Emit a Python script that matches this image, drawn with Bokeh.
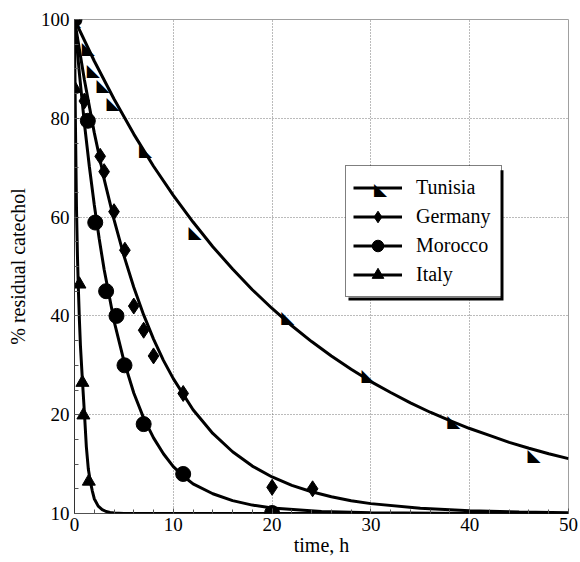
import numpy as np
from bokeh.plotting import figure
from bokeh.models import Legend, LegendItem, BoxAnnotation, FixedTicker
from bokeh.core.properties import value
from bokeh.embed import file_html
from bokeh.resources import INLINE

# ---- data ----
series_names = ["Tunisia", "Germany", "Morocco", "Italy"]

tun_mx = [0, 1.4, 1.9, 2.9, 3.9, 7.2, 12.2, 21.6, 29.7, 38.4, 46.5]
tun_my = [100, 94.2, 89.8, 86.7, 83.1, 73.6, 56.9, 39.7, 28.0, 18.8, 11.8]
tun_cx = [0, 2, 4, 6, 8, 10, 12, 14, 16, 18, 20, 22, 24, 26, 28, 30, 32, 34, 36, 38, 40, 42, 44, 46, 48, 50]
tun_cy = [100, 91.6, 83.9, 76.8, 70.3, 64.4, 59.0, 54.0, 49.5, 45.3, 41.5, 38.0, 34.8, 31.9, 29.2, 26.7,
          24.5, 22.4, 20.5, 18.8, 17.2, 15.8, 14.4, 13.2, 12.1, 11.1]

ger_mx = [0, 1.0, 2.6, 3.0, 4.0, 5.1, 6.0, 7.0, 8.0, 11.0, 20.0, 24.1]
ger_my = [100, 83.5, 72.3, 69.2, 61.1, 53.3, 42.0, 37.1, 31.9, 24.3, 5.3, 5.0]
ger_cx = [0, 1, 2, 3, 4, 5, 6, 7, 8, 9, 10, 12, 14, 16, 18, 20, 22, 24, 26, 28, 30, 35, 40, 45, 50]
ger_cy = [100, 87.8, 77.1, 67.7, 59.5, 52.2, 45.8, 40.2, 35.3, 31.0, 27.3, 21.0, 16.2, 12.5, 9.6, 7.4,
          5.7, 4.4, 3.4, 2.6, 2.0, 1.05, 0.55, 0.29, 0.15]

mor_mx = [0, 1.35, 2.1, 3.2, 4.25, 5.06, 7.0, 11.0, 20.0]
mor_my = [100, 79.5, 58.9, 45.0, 40.0, 30.0, 18.1, 8.0, 0.1]
mor_cx = [0, 0.5, 1, 1.5, 2, 2.5, 3, 4, 5, 6, 7, 8, 9, 10, 11, 12, 14, 16, 18, 20, 25, 30, 40, 50]
mor_cy = [100, 89, 79, 70.3, 62.5, 55.6, 49.4, 39.0, 30.9, 24.4, 19.3, 15.3, 12.1, 9.5, 7.6, 6.0,
          4.0, 2.6, 1.7, 1.1, 0.4, 0.15, 0.02, 0]

ita_mx = [0, 0.05, 0.5, 0.8, 0.9, 1.45]
ita_my = [100, 86.0, 46.4, 26.5, 19.9, 6.5]
ita_cx = [0, 0.05, 0.1, 0.2, 0.3, 0.4, 0.5, 0.6, 0.8, 1.0, 1.2, 1.4, 1.6, 1.8, 2.0, 2.4, 2.8, 3.2,
          3.6, 4.0, 5.0, 10, 20, 30, 40, 50]
ita_cy = [100, 88, 78, 62, 52, 45, 39, 34, 27, 20.5, 13.5, 9.0, 6.5, 4.6, 3.0, 1.5, 0.8, 0.4,
          0.2, 0.1, 0, 0, 0, 0, 0, 0]

x_ticks = [0, 10, 20, 30, 40, 50]
x_minor = [0, 2, 4, 6, 8, 10, 12, 14, 16, 18, 20, 22, 24, 26, 28, 30, 32, 34, 36, 38, 40, 42, 44, 46, 48, 50]
y_ticks = [0, 20, 40, 60, 80, 100]
y_tick_labels = {0: "10", 20: "20", 40: "40", 60: "60", 80: "80", 100: "100"}
y_minor = [0, 5, 10, 15, 20, 25, 30, 35, 40, 45, 50, 55, 60, 65, 70, 75, 80, 85, 90, 95, 100]

x_title = "time, h"
y_title = "% residual catechol"

SERIF = "Liberation Serif, Times New Roman, DejaVu Serif, serif"
TRI = "\u25E3"

p = figure(width=580, height=562, x_range=(0, 50), y_range=(0, 100),
           output_backend="svg", toolbar_location=None,
           min_border_left=74, min_border_right=12, min_border_top=19, min_border_bottom=49)
p.background_fill_color = "white"
p.border_fill_color = "white"
p.outline_line_color = "#a0a0a0"
p.outline_line_width = 1

for ax, ticks, minor in ((p.xaxis[0], x_ticks, x_minor), (p.yaxis[0], y_ticks, y_minor)):
    ax.ticker = FixedTicker(ticks=ticks, minor_ticks=minor)
    ax.major_tick_in = 5
    ax.major_tick_out = 0
    ax.minor_tick_in = 4
    ax.minor_tick_out = 0
    ax.major_tick_line_color = "#555555"
    ax.minor_tick_line_color = "#555555"
    ax.major_label_text_font = SERIF
    ax.major_label_text_font_size = "19px"
    ax.major_label_text_color = "black"
    ax.axis_label_text_font = SERIF
    ax.axis_label_text_font_size = "20px"
    ax.axis_label_text_font_style = "normal"
    ax.axis_label_text_color = "black"

p.xaxis.axis_label = x_title
p.yaxis.axis_label = y_title
p.yaxis.major_label_overrides = y_tick_labels
p.xaxis.major_label_standoff = 4
p.xaxis.axis_label_standoff = 0
p.yaxis.major_label_standoff = 5
p.yaxis.axis_label_standoff = 9
p.xaxis.axis_line_color = "black"
p.xaxis.axis_line_dash = "1 1"
p.yaxis.axis_line_color = "#333333"

p.grid.grid_line_color = "#777777"
p.grid.grid_line_dash = "1 2"
p.grid.grid_line_width = 1

# legend background boxes (drawn beneath the glyphs, above the grid)
shadow = BoxAnnotation(left=27.73, right=43.42, top=69.48, bottom=43.14, level="underlay",
                       fill_color="black", fill_alpha=1, line_color=None)
panel = BoxAnnotation(left=27.43, right=43.12, top=70.09, bottom=43.75, level="underlay",
                      fill_color="white", fill_alpha=1, line_color=None)
p.add_layout(shadow)
p.add_layout(panel)

LW = 3
# curves
l_tun = p.line(tun_cx, tun_cy, line_color="black", line_width=LW)
l_ger = p.line(ger_cx, ger_cy, line_color="black", line_width=LW)
l_mor = p.line(mor_cx, mor_cy, line_color="black", line_width=LW)
l_ita = p.line(ita_cx, ita_cy, line_color="black", line_width=LW)

# markers
p.text(x=tun_mx, y=tun_my, text=[TRI] * len(tun_mx), text_font=value("DejaVu Sans"),
       text_font_size="17px", text_align="center", text_baseline="middle", text_color="black")
s_ger = p.scatter(ger_mx, ger_my, marker="diamond", size=16,
                  fill_color="black", line_color="black")
s_mor = p.scatter(mor_mx, mor_my, marker="circle", size=15, fill_color="black", line_color="black")
s_ita = p.scatter(ita_mx, ita_my, marker="triangle", size=13, fill_color="black", line_color="black")

# Tunisia marker symbol inside the legend (legend position in data units)
p.text(x=[30.97], y=[65.73], text=[TRI], text_font=value("DejaVu Sans"),
       text_font_size="17px", text_align="center", text_baseline="middle", text_color="black")

legend = Legend(items=[
    LegendItem(label=series_names[0], renderers=[l_tun]),
    LegendItem(label=series_names[1], renderers=[l_ger, s_ger]),
    LegendItem(label=series_names[2], renderers=[l_mor, s_mor]),
    LegendItem(label=series_names[3], renderers=[l_ita, s_ita]),
], location=(271, 216))
legend.label_text_font = SERIF
legend.label_text_font_size = "20px"
legend.label_text_color = "black"
legend.glyph_width = 49
legend.glyph_height = 29
legend.label_height = 29
legend.label_width = 78
legend.label_standoff = 14
legend.spacing = 0
legend.padding = 7
legend.margin = 0
legend.border_line_color = "black"
legend.border_line_width = 1.5
legend.background_fill_alpha = 0
p.add_layout(legend, "center")

open("out.html", "w").write(file_html(p, INLINE))
